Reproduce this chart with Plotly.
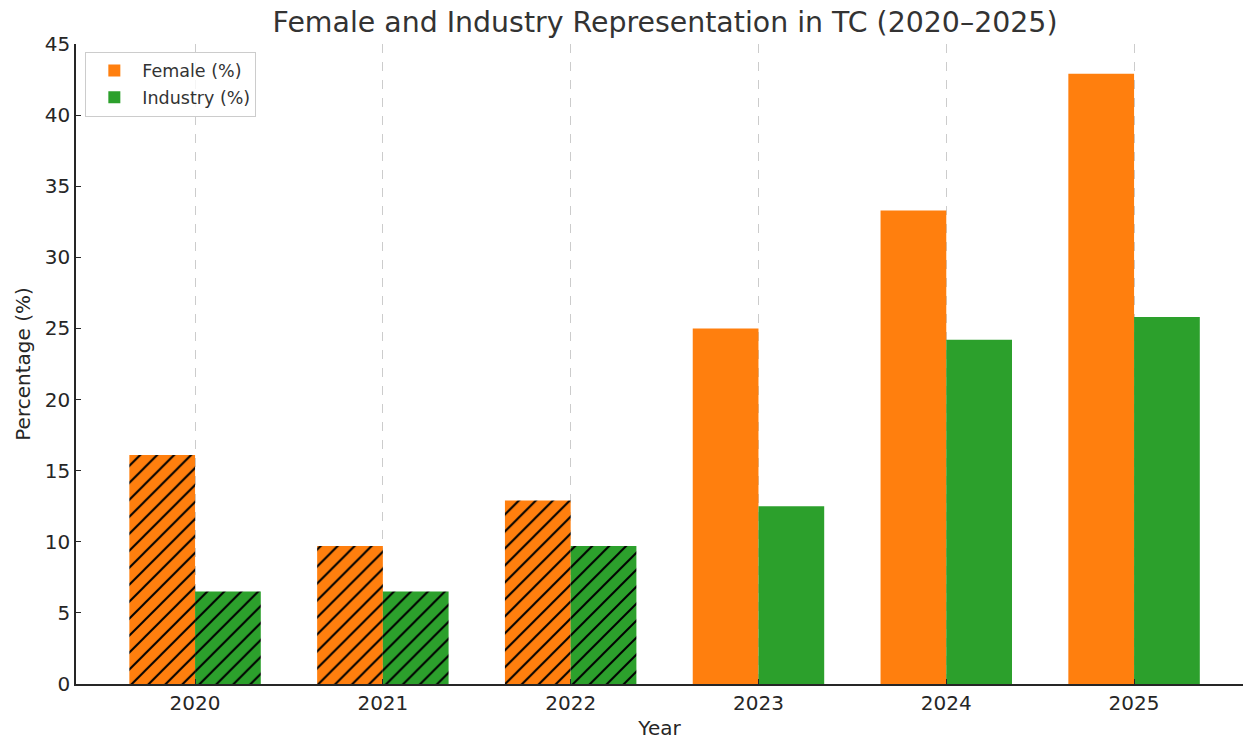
import plotly.graph_objects as go

years = ["2020", "2021", "2022", "2023", "2024", "2025"]
female = [16.1, 9.7, 12.9, 25.0, 33.3, 42.9]
industry = [6.5, 6.5, 9.7, 12.5, 24.2, 25.8]
hatched = ["/", "/", "/", "", "", ""]

FONT = "DejaVu Sans"
BAR_W = 0.35
pos = list(range(len(years)))

fig = go.Figure()
series = [("Female (%)", female, "#ff7f0e", -BAR_W), ("Industry (%)", industry, "#2ca02c", 0.0)]
for name, vals, color, off in series:
    fig.add_trace(go.Bar(
        x=pos, y=vals, name=name, legendgroup=name, showlegend=False,
        width=BAR_W, offset=off,
        marker=dict(color=color, line=dict(width=0),
                    pattern=dict(shape=hatched, fgcolor="black", fgopacity=1,
                                 size=12, solidity=0.17)),
    ))
for name, vals, color, off in series:
    fig.add_trace(go.Bar(
        x=[None], y=[None], name=name, legendgroup=name, showlegend=True,
        marker=dict(color=color, line=dict(width=0)),
    ))

fig.update_layout(
    width=1244, height=740,
    margin=dict(l=76, r=1, t=44, b=56, autoexpand=False),
    barmode="overlay",
    plot_bgcolor="white", paper_bgcolor="white",
    font=dict(family=FONT, color="#262626", size=20),
    title=dict(text="Female and Industry Representation in TC (2020–2025)",
               x=0.5346, xanchor="center", y=0.970, yanchor="middle",
               font=dict(size=28.4, color="#333333")),
    legend=dict(x=0.008, y=0.988, xanchor="left", yanchor="top",
                bordercolor="#cccccc", borderwidth=1, bgcolor="rgba(255,255,255,0.8)",
                font=dict(size=17.5, color="#333333"), itemwidth=46,
                tracegroupgap=1),
    showlegend=True,
)
fig.update_xaxes(
    range=[-0.634, 5.58], tickvals=pos, ticktext=years, automargin=False,
    title=dict(text="Year", font=dict(size=20), standoff=12),
    showline=True, linecolor="#262626", linewidth=1.5,
    ticks="inside", ticklen=5, tickcolor="#262626",
    showgrid=True, gridcolor="#cccccc", griddash="dash", gridwidth=1,
    zeroline=False, tickfont=dict(size=20),
)
fig.update_yaxes(
    range=[0, 45], tickvals=list(range(0, 50, 5)), automargin=False,
    title=dict(text="Percentage (%)", font=dict(size=20), standoff=9),
    showline=True, linecolor="#262626", linewidth=1.5,
    ticks="inside", ticklen=5, tickcolor="#262626",
    showgrid=False, zeroline=False,
    tickfont=dict(size=20),
)
fig.write_html(
    "out.html",
    config={"displayModeBar": False},
    post_script="document.body.style.margin='0';document.body.style.overflow='hidden';",
)
